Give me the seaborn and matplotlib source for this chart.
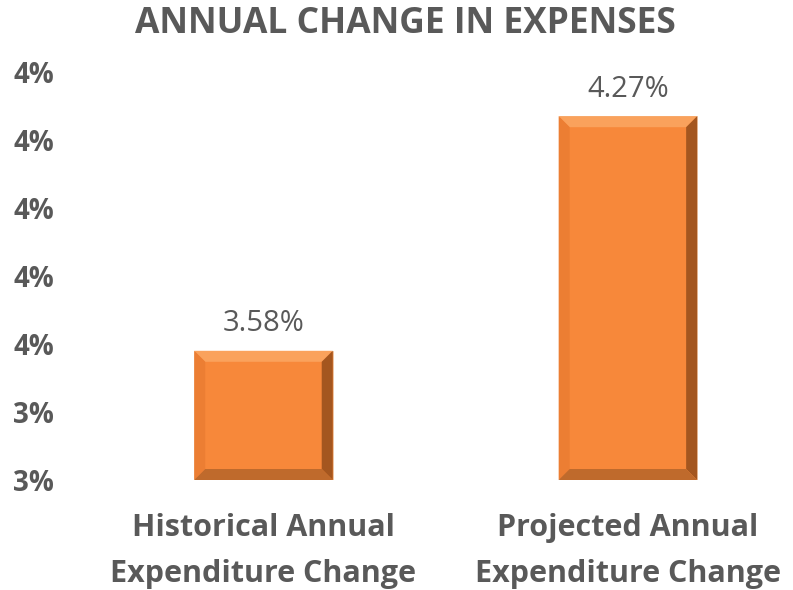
import matplotlib
matplotlib.use("Agg")
import matplotlib.pyplot as plt
import pandas as pd
import seaborn as sns
from matplotlib.patches import Polygon
from matplotlib.ticker import FuncFormatter

categories = ["Historical Annual\nExpenditure Change", "Projected Annual\nExpenditure Change"]
values = [3.58, 4.27]
value_labels = ["3.58%", "4.27%"]
y_ticks = [3.2, 3.4, 3.6, 3.8, 4.0, 4.2, 4.4]

TEXT = "#595959"
ORANGE = "#F7883A"

sns.set_theme(style="white")
plt.rcParams["font.family"] = ["Open Sans", "DejaVu Sans"]

df = pd.DataFrame({"category": categories, "value": values})

fig = plt.figure(figsize=(7.93, 5.90), dpi=100)
ax = fig.add_axes([90 / 793, 110 / 590, 703 / 793, 408 / 590])

sns.barplot(data=df, x="category", y="value", color=ORANGE, width=0.38,
            saturation=1, ax=ax)

ax.set_ylim(3.2, 4.4)
ax.set_xlim(-0.476, 1.453)
ax.set_yticks(y_ticks)
ax.yaxis.set_major_formatter(FuncFormatter(lambda v, p: f"{v:.0f}%"))
ax.set_xlabel("")
ax.set_ylabel("")
for s in ax.spines.values():
    s.set_visible(False)
ax.tick_params(axis="y", length=0, pad=26, labelsize=20, labelcolor=TEXT)
ax.tick_params(axis="x", length=0, pad=24, labelsize=22, labelcolor=TEXT)
for lab in ax.get_yticklabels():
    lab.set_fontweight("bold")
for lab in ax.get_xticklabels():
    lab.set_fontweight("bold")
    lab.set_linespacing(1.66)

# bevel edges built from each bar's own geometry
bx = 11 / 364.5
by = 11 / 340
for patch, lab in zip(ax.patches, value_labels):
    x0, y0 = patch.get_x(), patch.get_y()
    x1, y1 = x0 + patch.get_width(), y0 + patch.get_height()
    y0 = 3.2
    patch.set_edgecolor("#EFC7A6")
    patch.set_linewidth(0.6)
    faces = [
        ([(x0, y1), (x1, y1), (x1 - bx, y1 - by), (x0 + bx, y1 - by)], "#FAA25C"),
        ([(x0, y0), (x0 + bx, y0 + by), (x0 + bx, y1 - by), (x0, y1)], "#EC7E33"),
        ([(x1, y0), (x1, y1), (x1 - bx, y1 - by), (x1 - bx, y0 + by)], "#A4561F"),
        ([(x0, y0), (x1, y0), (x1 - bx, y0 + by), (x0 + bx, y0 + by)], "#BF6A2C"),
    ]
    for pts, c in faces:
        ax.add_patch(Polygon(pts, closed=True, facecolor=c, edgecolor="none"))
    ax.annotate(lab, (x0 + patch.get_width() / 2, y1), xytext=(0, 9),
                textcoords="offset points", ha="center", va="bottom",
                fontsize=21, color=TEXT)

fig.text(405 / 793, 1 - 24 / 590, "ANNUAL CHANGE IN EXPENSES", ha="center", va="center",
         fontsize=25.5, fontweight="bold", color=TEXT)

fig.savefig("out.png", dpi=100)
